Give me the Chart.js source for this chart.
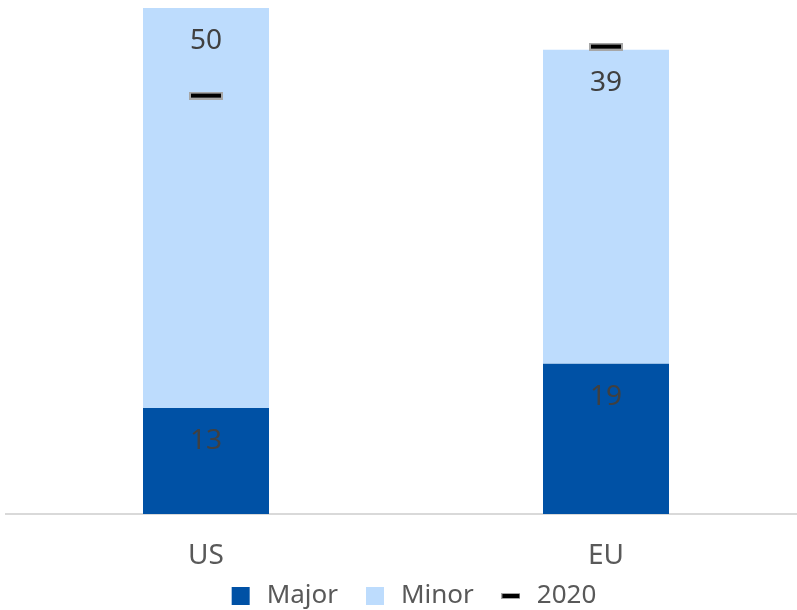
<!DOCTYPE html>
<html><head><meta charset="utf-8">
<script src="https://cdn.jsdelivr.net/npm/chart.js@4"></script>
<style>
html,body{margin:0;padding:0;overflow:hidden;background:#fff;width:797px;height:610px}
#wrap{position:absolute;left:0;top:0;width:830px;height:644px}
</style>
</head><body>
<div id="wrap"><canvas id="c" width="830" height="644"></canvas></div>
<script>
const categories = ['US', 'EU'];
const majorValues = [13.2, 18.7];
const minorValues = [49.8, 39.1];
const values2020 = [52.1, 58.2];
const seriesNames = ['Major', 'Minor', '2020'];

const FONT = '"Noto Sans", "Open Sans", sans-serif';
const MAJOR_COLOR = '#0051a5';
const MINOR_COLOR = '#bddcfd';

function dashCanvas(w, h, b) {
  const c = document.createElement('canvas');
  c.width = w; c.height = h;
  const g = c.getContext('2d');
  g.fillStyle = '#a6a6a6';
  g.fillRect(0, 0, w, h);
  g.fillStyle = '#000000';
  g.fillRect(b, b, w - 2 * b, h - 2 * b);
  return c;
}
const markerImg = dashCanvas(34, 8, 2);
const legendImg = dashCanvas(19, 6, 1);

const labelPlugin = {
  id: 'barLabels',
  afterDatasetsDraw(chart) {
    const ctx = chart.ctx;
    ctx.save();
    ctx.font = '28px ' + FONT;
    ctx.fillStyle = '#404040';
    ctx.textAlign = 'center';
    ctx.textBaseline = 'middle';
    [0, 1].forEach(di => {
      const meta = chart.getDatasetMeta(di);
      meta.data.forEach((el, i) => {
        const v = chart.data.datasets[di].data[i];
        ctx.fillText(String(Math.round(v)), el.x, el.y + 33);
      });
    });
    ctx.restore();
  }
};

const legendShift = {
  id: 'legendShift',
  afterLayout(chart) {
    const lg = chart.legend;
    lg.left += 6; lg.right += 6;
    lg.top -= 25; lg.bottom -= 25;
  }
};

new Chart(document.getElementById('c'), {
  type: 'bar',
  data: {
    labels: categories,
    datasets: [
      { label: seriesNames[0], data: majorValues, backgroundColor: MAJOR_COLOR, borderWidth: 0, stack: 'bars', order: 2 },
      { label: seriesNames[1], data: minorValues, backgroundColor: MINOR_COLOR, borderWidth: 0, stack: 'bars', order: 2 },
      { label: seriesNames[2], type: 'line', data: values2020, showLine: false, stack: 'marker', order: 0,
        pointStyle: markerImg, pointRadius: 10, pointHoverRadius: 10, borderColor: '#000', backgroundColor: '#000' }
    ]
  },
  options: {
    responsive: false,
    animation: false,
    devicePixelRatio: 1,
    layout: { autoPadding: false, padding: { left: 6, right: 24, top: 0, bottom: 0 } },
    datasets: { bar: { categoryPercentage: 1, barPercentage: 0.315 } },
    scales: {
      x: {
        stacked: true,
        grid: { display: false, drawTicks: false },
        border: { display: true, color: '#d9d9d9', width: 2 },
        ticks: { color: '#595959', font: { family: FONT, size: 28 }, padding: 25 },
        afterFit(s) { s.height = 70; }
      },
      y: { stacked: true, display: false, min: 0, max: 64 }
    },
    plugins: {
      tooltip: { enabled: false },
      legend: {
        position: 'bottom',
        labels: {
          usePointStyle: true,
          boxHeight: 18,
          padding: 24,
          color: '#595959',
          font: { family: FONT, size: 26 },
          generateLabels(chart) {
            const items = Chart.defaults.plugins.legend.labels.generateLabels(chart);
            items.sort((a, b) => a.datasetIndex - b.datasetIndex);
            items.forEach(it => {
              const i = it.datasetIndex;
              it.lineWidth = 0;
              it.pointStyle = i === 2 ? legendImg : 'rect';
              if (i === 0) it.fillStyle = MAJOR_COLOR;
              if (i === 1) it.fillStyle = MINOR_COLOR;
            });
            return items;
          }
        }
      }
    }
  },
  plugins: [labelPlugin, legendShift]
});
</script>
</body></html>
